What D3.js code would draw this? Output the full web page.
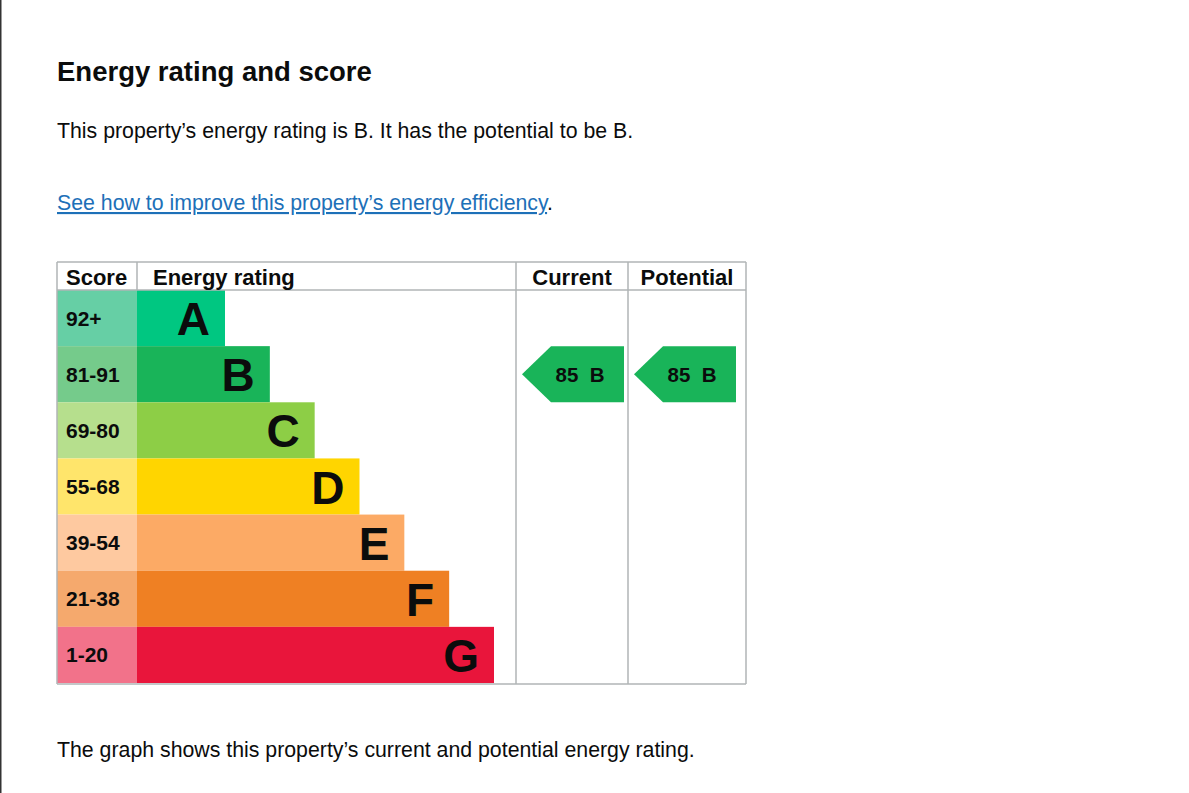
<!DOCTYPE html>
<html>
<head>
<meta charset="utf-8">
<script src="https://cdn.jsdelivr.net/npm/d3@7"></script>
<style>
  html, body { margin: 0; padding: 0; background: #fff; }
  svg { display: block; font-family: "Liberation Sans", Arial, Helvetica, sans-serif; }
</style>
</head>
<body>
<svg id="chart" width="1189" height="793"></svg>
<script>
const ratings = ["A", "B", "C", "D", "E", "F", "G"];
const scoreRanges = ["92+", "81-91", "69-80", "55-68", "39-54", "21-38", "1-20"];
const bandColors = ["#00c781", "#19b459", "#8dce46", "#ffd500", "#fcaa65", "#ef8023", "#e9153b"];
const scoreColors = ["#66cfa5", "#75cb8b", "#b6df8d", "#ffe56b", "#fec9a0", "#f5a96d", "#f2728a"];
const headers = ["Score", "Energy rating", "Current", "Potential"];
const currentScore = 85, currentRating = "B";
const potentialScore = 85, potentialRating = "B";

const svg = d3.select("#chart");

// page left edge line
svg.append("line").attr("x1", 0.75).attr("x2", 0.75).attr("y1", 0).attr("y2", 793)
  .attr("stroke", "#333").attr("stroke-width", 1.5);

// texts
svg.append("text").attr("x", 57).attr("y", 81).attr("font-size", 27.5).attr("font-weight", "bold")
  .attr("fill", "#0b0c0c").text("Energy rating and score");
svg.append("text").attr("x", 57).attr("y", 138).attr("font-size", 21.3).attr("fill", "#0b0c0c")
  .text("This property\u2019s energy rating is B. It has the potential to be B.");
const link = svg.append("text").attr("x", 57).attr("y", 210).attr("font-size", 21.3);
link.append("tspan").attr("fill", "#1d70b8").attr("text-decoration", "underline")
  .text("See how to improve this property\u2019s energy efficiency");
link.append("tspan").attr("fill", "#0b0c0c").text(".");
svg.append("text").attr("x", 57).attr("y", 757).attr("font-size", 21.3).attr("fill", "#0b0c0c")
  .text("The graph shows this property\u2019s current and potential energy rating.");

// table geometry
const tL = 57, tR = 746, tT = 262, tH = 290, tB = 684;
const scoreR = 137, curL = 516, potL = 628;

const y = d3.scaleBand().domain(ratings).range([tH, tB - 1]).padding(0);
const xBar = d3.scaleLinear().domain([0, ratings.length - 1]).range([225, 494]);
const rows = ratings.map((r, i) => ({ r, i, range: scoreRanges[i], c: bandColors[i], sc: scoreColors[i] }));

// score cells
svg.selectAll("rect.score").data(rows).join("rect").attr("class", "score")
  .attr("x", tL).attr("y", d => y(d.r)).attr("width", scoreR - tL).attr("height", y.bandwidth())
  .attr("fill", d => d.sc);
svg.selectAll("text.score").data(rows).join("text").attr("class", "score")
  .attr("x", tL + 9).attr("y", d => y(d.r) + y.bandwidth() / 2 + 7.5)
  .attr("font-size", 21).attr("font-weight", "bold").attr("fill", "#0b0c0c").text(d => d.range);

// bars
svg.selectAll("rect.bar").data(rows).join("rect").attr("class", "bar")
  .attr("x", scoreR).attr("y", d => y(d.r)).attr("width", d => xBar(d.i) - scoreR).attr("height", y.bandwidth())
  .attr("fill", d => d.c);
svg.selectAll("text.bar").data(rows).join("text").attr("class", "bar")
  .attr("x", d => xBar(d.i) - 15).attr("y", d => y(d.r) + y.bandwidth() / 2 + 17)
  .attr("text-anchor", "end").attr("font-size", 46).attr("font-weight", "bold").attr("fill", "#0b0c0c")
  .text(d => d.r);

// grid lines
const gridColor = "#b1b4b6";
const lines = [
  [tL, tT, tR, tT], [tL, tB, tR, tB], [tL, tT, tL, tB], [tR, tT, tR, tB],
  [tL, tH, tR, tH], [scoreR, tT, scoreR, tH], [curL, tT, curL, tB], [potL, tT, potL, tB]
];
svg.selectAll("line.grid").data(lines).join("line").attr("class", "grid")
  .attr("x1", d => d[0]).attr("y1", d => d[1]).attr("x2", d => d[2]).attr("y2", d => d[3])
  .attr("stroke", gridColor).attr("stroke-width", 1.5);

// headers
const headX = [tL + 9, scoreR + 16, (curL + potL) / 2, (potL + tR) / 2];
const headAnchor = ["start", "start", "middle", "middle"];
svg.selectAll("text.head").data(headers).join("text").attr("class", "head")
  .attr("x", (d, i) => headX[i]).attr("y", 285).attr("text-anchor", (d, i) => headAnchor[i])
  .attr("font-size", 22).attr("font-weight", "bold").attr("fill", "#0b0c0c").text(d => d);

// arrows
const arrows = [
  { score: currentScore, rating: currentRating, left: curL + 6, right: potL - 4 },
  { score: potentialScore, rating: potentialRating, left: potL + 6, right: tR - 10 }
];
function arrowPath(d) {
  const top = y(d.rating), h = y.bandwidth(), mid = top + h / 2, tip = 29;
  return `M${d.left},${mid} L${d.left + tip},${top} L${d.right},${top} L${d.right},${top + h} L${d.left + tip},${top + h} Z`;
}
svg.selectAll("path.arrow").data(arrows).join("path").attr("class", "arrow")
  .attr("d", arrowPath).attr("fill", d => bandColors[ratings.indexOf(d.rating)]);
svg.selectAll("text.arrow").data(arrows).join("text").attr("class", "arrow")
  .attr("x", d => (d.left + d.right) / 2 + 7).attr("y", d => y(d.rating) + y.bandwidth() / 2 + 7.5)
  .attr("text-anchor", "middle").attr("font-size", 20.5).attr("font-weight", "bold").attr("fill", "#0b0c0c")
  .style("white-space", "pre")
  .text(d => `${d.score}  ${d.rating}`);
</script>
</body>
</html>
